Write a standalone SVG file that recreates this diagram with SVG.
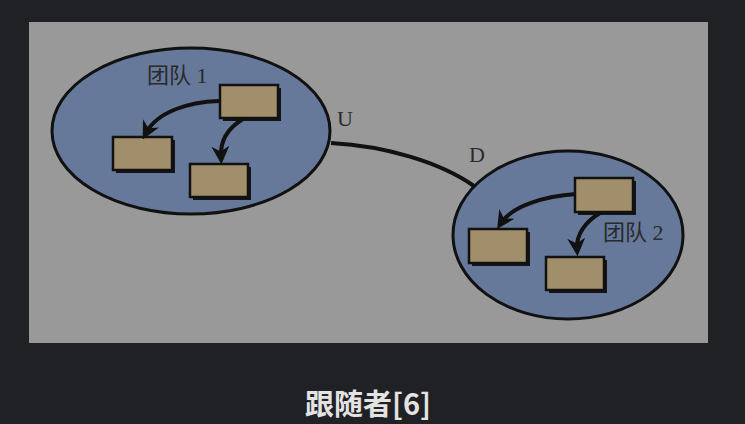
<svg xmlns="http://www.w3.org/2000/svg" width="745" height="424" viewBox="0 0 745 424">
<defs>
<style>
.team{fill:#66799a;stroke:#111;stroke-width:3}
.box{fill:#a08f6a;stroke:#111;stroke-width:2.5}
.shadow{fill:#151515}
.arr{fill:none;stroke:#111;stroke-width:4;marker-end:url(#ah)}
.lbl{font-family:"Liberation Serif","Noto Sans CJK SC",serif;font-size:22px;fill:#2a2a2a}
.cap{font-family:"Noto Sans CJK SC","Noto Sans",sans-serif;font-size:29px;font-weight:700;fill:#e3e3e3}
</style>
<marker id="ah" viewBox="0 0 10 10" refX="6" refY="5" markerWidth="4.5" markerHeight="4.5" orient="auto" markerUnits="strokeWidth">
<path d="M0,0 L10,5 L0,10 L3,5 Z" fill="#111"/>
</marker>
</defs>
<rect width="745" height="424" fill="#202124"/>
<rect x="29" y="22" width="679" height="321" fill="#999999"/>
<g id="connectors">
<path d="M331,143 C385,146 440,162 474,186" fill="none" stroke="#111" stroke-width="4"/>
<text class="lbl" x="337" y="126">U</text>
<text class="lbl" x="469" y="162">D</text>
</g>
<g id="team1">
<ellipse class="team" cx="191" cy="131" rx="139" ry="83"/>
<text class="lbl" x="147" y="83">团队 1</text>
</g>
<g id="team1-leader">
<rect class="shadow" x="223" y="88" width="58" height="33"/>
<rect class="box" x="220" y="85" width="58" height="33"/>
</g>
<g id="team1-member1">
<rect class="shadow" x="116" y="140" width="59" height="33"/>
<rect class="box" x="113" y="137" width="59" height="33"/>
</g>
<g id="team1-member2">
<rect class="shadow" x="193" y="167" width="58" height="33"/>
<rect class="box" x="190" y="164" width="58" height="33"/>
</g>
<g id="team1-arrows">
<path class="arr" d="M219,101 C188,102 157,112 146,133"/>
<path class="arr" d="M243,119 C228,128 220,140 221,157"/>
</g>
<g id="team2">
<ellipse class="team" cx="568" cy="235" rx="115" ry="84"/>
<text class="lbl" x="603" y="240">团队 2</text>
</g>
<g id="team2-leader">
<rect class="shadow" x="578" y="181" width="58" height="34"/>
<rect class="box" x="575" y="178" width="58" height="34"/>
</g>
<g id="team2-member1">
<rect class="shadow" x="472" y="232" width="58" height="34"/>
<rect class="box" x="469" y="229" width="58" height="34"/>
</g>
<g id="team2-member2">
<rect class="shadow" x="549" y="260" width="58" height="33"/>
<rect class="box" x="546" y="257" width="58" height="33"/>
</g>
<g id="team2-arrows">
<path class="arr" d="M576,194 C545,196 512,206 501,223"/>
<path class="arr" d="M600,213 C585,222 576,235 577,249"/>
</g>
<text class="cap" x="368" y="415" text-anchor="middle">跟随者[6]</text>
</svg>
